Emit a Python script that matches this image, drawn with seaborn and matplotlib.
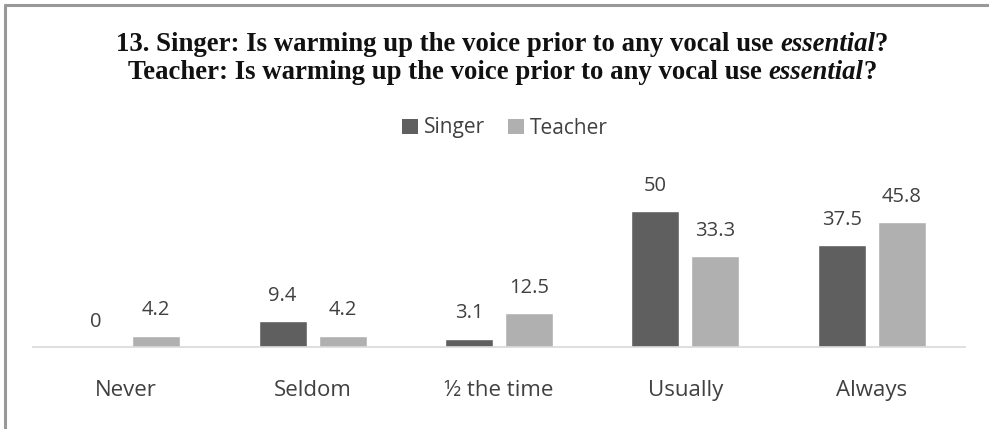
import matplotlib
matplotlib.use("Agg")
import matplotlib.pyplot as plt
import seaborn as sns
import pandas as pd
from matplotlib.lines import Line2D
from matplotlib.patches import Rectangle

categories = ["Never", "Seldom", "½ the time", "Usually", "Always"]
singer = [0, 9.4, 3.1, 50, 37.5]
teacher = [4.2, 4.2, 12.5, 33.3, 45.8]
series_names = ["Singer", "Teacher"]
colors = ["#5f5f5f", "#b0b0b0"]

df = pd.DataFrame({
    "category": categories * 2,
    "value": singer + teacher,
    "group": [series_names[0]] * len(categories) + [series_names[1]] * len(categories),
})

sns.set_theme(style="white")
plt.rcParams["font.family"] = ["Open Sans", "DejaVu Sans"]

W, H = 989, 429
fig = plt.figure(figsize=(W / 100, H / 100), dpi=100)
fig.patch.set_facecolor("white")

# plot area in pixel terms
x0, x1 = 33, 965
base_y = 347
ymax = 55
px_per_unit = 2.72
top_y = base_y - ymax * px_per_unit
ax = fig.add_axes([x0 / W, 1 - base_y / H, (x1 - x0) / W, (base_y - top_y) / H])

sns.barplot(data=df, x="category", y="value", hue="group", order=categories,
            hue_order=series_names, palette=colors, width=0.644, gap=0.2,
            saturation=1, ax=ax, legend=False)

ax.set_ylim(0, ymax)
ax.set_xlim(-0.5, len(categories) - 0.5)
ax.set_xlabel("")
ax.set_ylabel("")
ax.set_yticks([])
for s in ["top", "right", "left"]:
    ax.spines[s].set_visible(False)
ax.spines["bottom"].set_color("#d9d9d9")
ax.spines["bottom"].set_linewidth(1.2)
ax.tick_params(axis="x", length=0, pad=24, labelsize=16, labelcolor="#404040")
ax.set_facecolor("white")

for cont in ax.containers:
    ax.bar_label(cont, labels=[f"{v:g}" for v in cont.datavalues], padding=11,
                 fontsize=14.5, color="#404040")

# legend
handles = [Rectangle((0, 0), 1, 1, facecolor=c, edgecolor="none") for c in colors]
fig.legend(handles, series_names, loc="center", bbox_to_anchor=(505 / W, 1 - 128 / H),
           ncol=2, frameon=False, fontsize=15, handlelength=0.75, handleheight=0.75,
           handletextpad=0.3, columnspacing=1.1, labelcolor="#404040")

# title, built from bold and bold-italic pieces
def title_line(y_px, pieces, size=19.3):
    renderer = fig.canvas.get_renderer()
    texts = []
    for txt, style in pieces:
        t = fig.text(0, 1 - y_px / H, txt, fontsize=size, fontweight="bold", fontstyle=style,
                     family="Liberation Serif", va="baseline", ha="left", color="#111111")
        texts.append(t)
    widths = [t.get_window_extent(renderer).width for t in texts]
    total = sum(widths)
    x = 502 - total / 2
    for t, w in zip(texts, widths):
        t.set_x(x / W)
        x += w

title_line(51, [("13. Singer: Is warming up the voice prior to any vocal use ", "normal"),
                ("essential", "italic"), ("?", "normal")])
title_line(79, [("Teacher: Is warming up the voice prior to any vocal use ", "normal"),
                ("essential", "italic"), ("?", "normal")])

# frame edges along top and left
fig.add_artist(Line2D([5 / W, 5 / W], [0, 1 - 5 / H], color="#999999", lw=2.2))
fig.add_artist(Line2D([5 / W, 1], [1 - 5 / H, 1 - 5 / H], color="#999999", lw=2.2))

fig.savefig("out.png", dpi=100, facecolor="white")
